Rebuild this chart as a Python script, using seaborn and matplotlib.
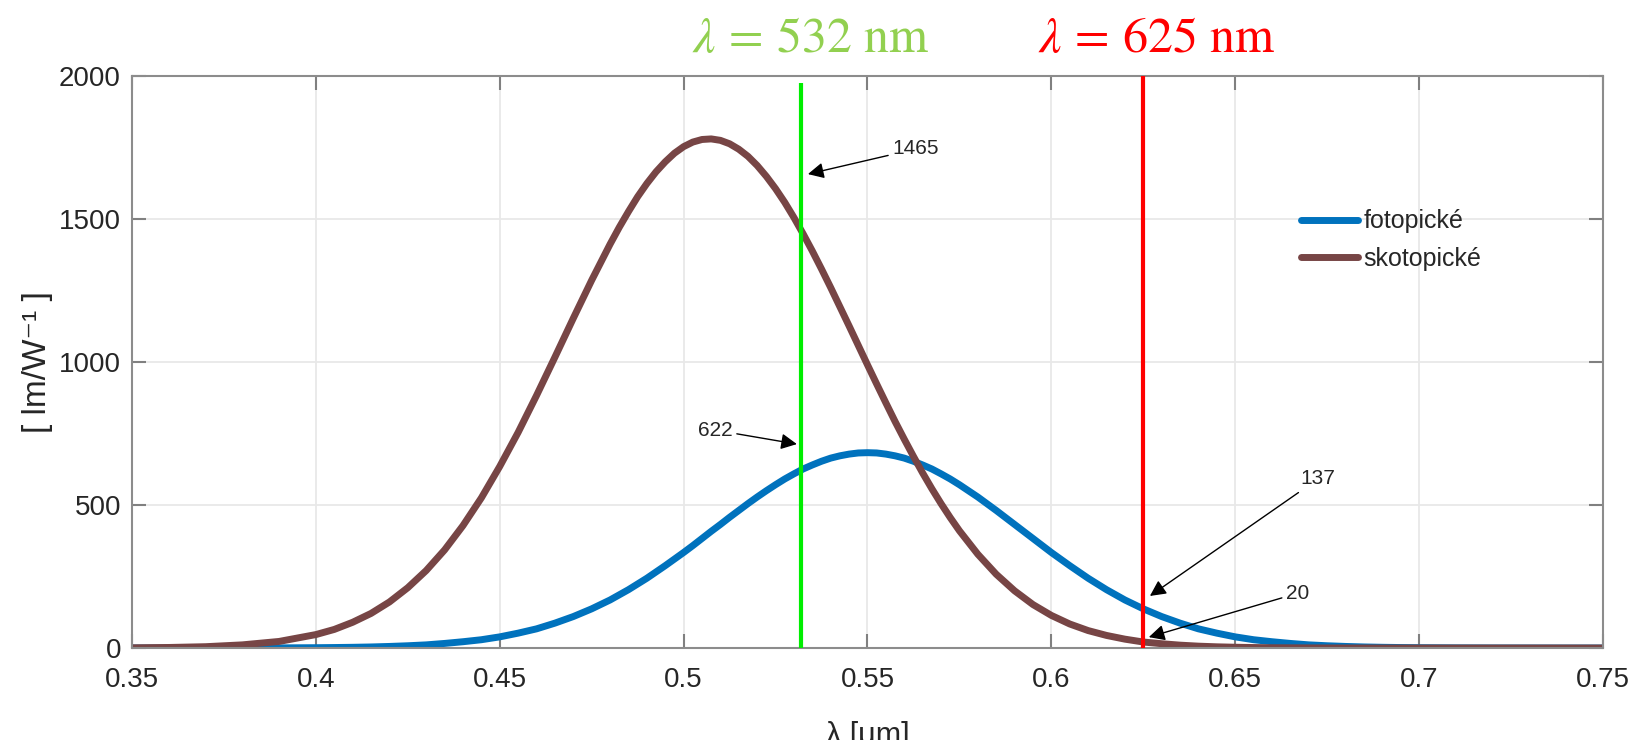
import matplotlib
matplotlib.use('Agg')
import matplotlib.pyplot as plt
import pandas as pd
import seaborn as sns

# wavelength grid [um]
wavelength = [0.35, 0.36, 0.37, 0.38, 0.39, 0.40,
              0.405, 0.41, 0.415, 0.42, 0.425, 0.43, 0.435, 0.44, 0.445, 0.45,
              0.455, 0.46, 0.465, 0.47, 0.475, 0.48, 0.4825, 0.485, 0.4875, 0.49,
              0.4925, 0.495, 0.4975, 0.50, 0.5025, 0.505, 0.5075, 0.51, 0.5125, 0.515,
              0.5175, 0.52, 0.5225, 0.525, 0.5275, 0.53, 0.5325, 0.535, 0.5375, 0.54,
              0.5425, 0.545, 0.5475, 0.55, 0.5525, 0.555, 0.5575, 0.56, 0.5625, 0.565,
              0.5675, 0.57, 0.5725, 0.575, 0.58, 0.585, 0.59, 0.595, 0.60,
              0.605, 0.61, 0.615, 0.62, 0.625, 0.63, 0.635, 0.64, 0.645, 0.65,
              0.655, 0.66, 0.665, 0.67, 0.675, 0.68, 0.685, 0.69, 0.695, 0.70,
              0.71, 0.72, 0.73, 0.74, 0.75]

# luminous efficacy [lm/W]
photopic = [0, 0, 0, 0.2, 0.5, 1.1,
            1.7, 2.5, 3.7, 5.5, 7.9, 11, 16, 22, 29, 39,
            52, 67, 87, 110, 137, 168, 186, 204, 224, 244,
            266, 288, 311, 334, 358, 383, 408, 432, 457, 481,
            505, 528, 550, 571, 591, 609, 626, 640, 653, 664,
            672, 678, 682, 683, 682, 678, 672, 664, 653, 640,
            626, 609, 591, 571, 528, 481, 432, 383, 334,
            288, 244, 204, 168, 137, 110, 87, 67, 52, 39,
            29, 22, 16, 11, 7.9, 5.5, 3.7, 2.5, 1.7, 1.1,
            0.5, 0.2, 0.1, 0, 0]
scotopic = [0.7, 1.9, 4.6, 11, 23, 47,
            65, 90, 121, 161, 211, 271, 343, 428, 525, 635,
            754, 883, 1017, 1153, 1286, 1412, 1471, 1526, 1578, 1624,
            1665, 1700, 1730, 1753, 1769, 1778, 1780, 1775, 1763, 1744,
            1719, 1687, 1649, 1606, 1558, 1505, 1448, 1388, 1325, 1260,
            1193, 1126, 1058, 990, 923, 857, 792, 730, 670, 612,
            557, 505, 456, 410, 328, 258, 200, 152, 114,
            84, 61, 44, 31, 21, 15, 10, 6.5, 4.2, 2.7,
            1.7, 1.0, 0.7, 0.4, 0.2, 0.1, 0.1, 0, 0, 0,
            0, 0, 0, 0, 0]
curve_names = ['fotopické', 'skotopické']

# laser lines [nm]
green_nm = 532
red_nm = 625

# arrow labels: text, arrow tip (x, y), text position (x, y)
note_text = ['1465', '622', '137', '20']
note_tip = [(0.5338, 1657), (0.5308, 713), (0.6268, 182), (0.6265, 38)]
note_pos = [(0.5632, 1745), (0.5085, 762), (0.6725, 591), (0.6671, 192)]

xticks = [0.35, 0.4, 0.45, 0.5, 0.55, 0.6, 0.65, 0.7, 0.75]
xtick_labels = ['0.35', '0.4', '0.45', '0.5', '0.55', '0.6', '0.65', '0.7', '0.75']
yticks = [0, 500, 1000, 1500, 2000]

df = pd.DataFrame({
    'wl': wavelength * 2,
    'eff': photopic + scotopic,
    'curve': [curve_names[0]] * len(wavelength) + [curve_names[1]] * len(wavelength),
})

sns.set_theme(style='whitegrid')
plt.rcParams['font.family'] = ['Liberation Sans', 'DejaVu Sans']
plt.rcParams['mathtext.fontset'] = 'stix'

fig = plt.figure(figsize=(16.34, 7.4), dpi=100)
ax = fig.add_axes([0.0808, 0.1243, 0.9002, 0.7730])

sns.lineplot(data=df, x='wl', y='eff', hue='curve', palette=['#0072BD', '#774545'],
             linewidth=5, ax=ax)

# laser wavelength markers
ax.vlines(green_nm / 1000, 0, 1975, color='#00EE00', linewidth=3, zorder=5)
ax.vlines(red_nm / 1000, 0, 2000, color='#FF0000', linewidth=3, zorder=5)

for txt, tip, pos in zip(note_text, note_tip, note_pos):
    ax.annotate(txt, xy=tip, xytext=pos, ha='center', va='center', fontsize=15,
                color='#262626', zorder=6,
                arrowprops=dict(arrowstyle='-|>', color='black', lw=1.0,
                                mutation_scale=24, shrinkA=1, shrinkB=0))

ax.set_xlim(0.35, 0.75)
ax.set_ylim(0, 2000)
ax.set_xticks(xticks)
ax.set_xticklabels(xtick_labels)
ax.set_yticks(yticks)
ax.grid(True, color='#e8e8e8', linewidth=1.3)
for s in ax.spines.values():
    s.set_color('#8c8c8c')
    s.set_linewidth(1.5)
ax.tick_params(direction='in', length=10, width=1.5, color='#808080',
               bottom=True, left=True, top=True, right=True,
               labelsize=20, labelcolor='#262626')
ax.tick_params(axis='x', pad=14)
ax.tick_params(axis='y', pad=8)

ax.set_xlabel('λ [μm]', fontsize=22, color='#262626', va='top')
ax.xaxis.set_label_coords(0.5, -0.128)
ax.set_ylabel('[ lm/W⁻¹ ]', fontsize=24, color='#262626')
ax.yaxis.set_label_coords(-0.0537, 0.5)

handles, labels = ax.get_legend_handles_labels()
ax.legend(handles, labels, frameon=False, loc='center left',
          bbox_to_anchor=(0.7947, 0.713), borderpad=0, borderaxespad=0,
          handlelength=2.3, handletextpad=0.2, labelspacing=0.55, fontsize=18)

fig.text(0.4963, 0.9297, r'$\lambda\,=\,532\ \mathrm{nm}$', color='#92D050',
         fontsize=36, ha='center', va='baseline')
fig.text(0.7075, 0.9297, r'$\lambda\,=\,625\ \mathrm{nm}$', color='#FF0000',
         fontsize=36, ha='center', va='baseline')

fig.savefig('out.png', dpi=100)
